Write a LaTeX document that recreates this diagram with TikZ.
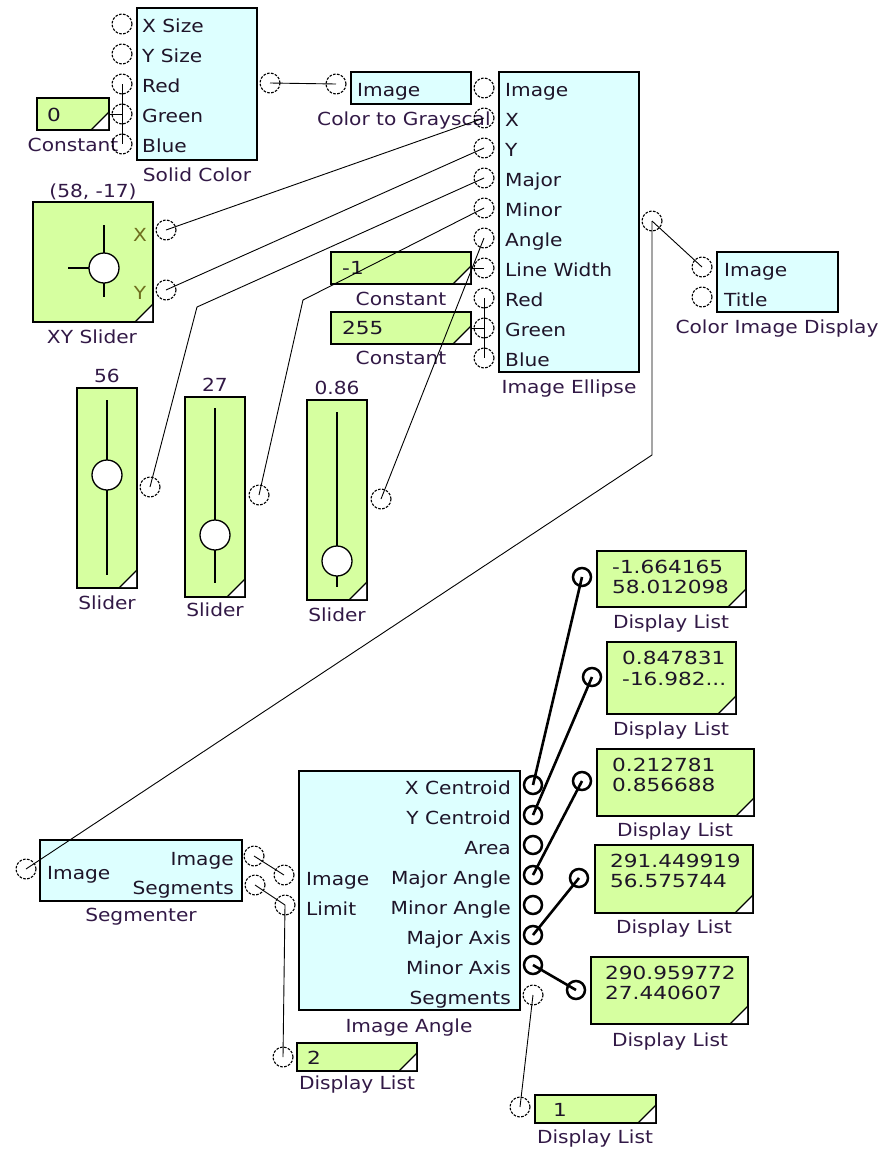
\documentclass[tikz,border=0pt]{standalone}
\usepackage{fontspec}
\setmainfont{DejaVu Sans}[FakeStretch=1.12]
\newfontfamily\numf{DejaVu Sans}[FakeStretch=1.2]
\usetikzlibrary{fit}
\definecolor{cy}{RGB}{221,255,255}
\definecolor{gr}{RGB}{214,255,160}
\definecolor{txt}{RGB}{30,20,40}
\definecolor{ttl}{RGB}{50,25,70}
\definecolor{olv}{RGB}{110,110,30}
\newcommand\fs{\fontsize{18}{22}\selectfont}
\newcommand\nfs{\numf\fontsize{18}{22}\selectfont}
\newcommand\crn[1]{%
  \fill[white] ([shift={(-17,-1)}]#1.south east) -- ([shift={(-1,-17)}]#1.south east) -- ([shift={(-1,-1)}]#1.south east) -- cycle;
  \draw[line width=1.1pt] ([xshift=-18pt]#1.south east) -- ([yshift=18pt]#1.south east);}
\begin{document}
\begin{tikzpicture}[x=1pt,y=-1pt,
 box/.style={draw=black,line width=1.5pt,outer sep=0pt,inner sep=0pt},
 cbox/.style={box,fill=cy},
 gbox/.style={box,fill=gr},
 port/.style={circle,draw=black,dash pattern=on 2.6pt off 1.4pt,line width=1.1pt,minimum size=20pt,inner sep=0pt,outer sep=0pt},
 bport/.style={circle,draw=black,line width=2.5pt,minimum size=18pt,inner sep=0pt},
 wire/.style={line width=0.9pt},
 bwire/.style={line width=2.6pt},
 lb/.style={font=\fs,text=txt,inner sep=0pt,text height=13pt,text depth=0pt,anchor=west},
 rb/.style={lb,anchor=east},
 nb/.style={lb,font=\nfs},
 tt/.style={font=\fs,text=ttl,inner sep=0pt,text height=13pt,text depth=0pt},
 knob/.style={circle,draw=black,fill=white,line width=1.3pt,minimum size=30pt,inner sep=0pt},
 trk/.style={line width=1.3pt},
]
\useasboundingbox (0,0) rectangle (883,1149);
\fill[white] (0,0) rectangle (883,1149);

% ---------- boxes ----------
\node[cbox,fit={(137,8)(257,160)}] (sc) {};
\node[gbox,fit={(37,98)(109,130)}] (c0) {};
\node[cbox,fit={(351,72)(471,104)}] (cg) {};
\node[cbox,fit={(499,72)(639,372)}] (ie) {};
\node[gbox,fit={(331,252)(471,284)}] (cm1) {};
\node[gbox,fit={(331,312)(471,344)}] (c255) {};
\node[cbox,fit={(717,252)(838,312)}] (cid) {};
\node[gbox,fit={(33,202)(153,322)}] (xy) {};
\node[gbox,fit={(77,388)(137,588)}] (s1) {};
\node[gbox,fit={(185,397)(245,597)}] (s2) {};
\node[gbox,fit={(307,400)(367,600)}] (s3) {};
\node[gbox,fit={(597,551)(746,607)}] (dl1) {};
\node[gbox,fit={(607,642)(736,714)}] (dl2) {};
\node[gbox,fit={(597,749)(754,816)}] (dl3) {};
\node[gbox,fit={(595,845)(753,913)}] (dl4) {};
\node[gbox,fit={(591,957)(748,1024)}] (dl5) {};
\node[gbox,fit={(535,1095)(656,1123)}] (dl6) {};
\node[gbox,fit={(297,1043)(417,1071)}] (dl7) {};
\node[cbox,fit={(40,840)(242,901)}] (seg) {};
\node[cbox,fit={(299,771)(520,1010)}] (ia) {};

\foreach \b in {c0,cm1,c255,xy,s1,s2,s3,dl1,dl2,dl3,dl4,dl5,dl6,dl7} {\crn{\b}}

% ---------- slider internals ----------
\draw[trk] (107,400) -- (107,575);
\node[knob] (k1) at (107,475) {};
\draw[trk] (215,408) -- (215,583);
\node[knob] (k2) at (215,535) {};
\draw[trk] (337,412) -- (337,587);
\node[knob] (k3) at (337,561) {};
\draw[trk] (104,225) -- (104,297);
\draw[trk] (68,268) -- (104,268);
\node[knob] (kxy) at (104,268) {};

% ---------- texts ----------
\foreach \t/\y in {X Size/26,Y Size/56,Red/86,Green/116,Blue/146} {\node[lb] at (142,\y) {\t};}
\node[tt] at (197,175) {Solid Color};
\node[nb] at (47,115) {0};
\node[tt] at (73,145) {Constant};
\node[lb] at (357,90) {Image};
\begin{scope}
  \clip (290,100) rectangle (490,140);
  \node[tt,anchor=west] at (317,119) {Color to Grayscale};
\end{scope}
\foreach \t/\y in {Image/90,X/120,Y/150,Major/180,Minor/210,Angle/240,Line Width/270,Red/300,Green/330,Blue/360} {\node[lb] at (505,\y) {\t};}
\node[tt] at (569,387) {Image Ellipse};
\node[nb] at (342,268) {-1};
\node[tt] at (401,299) {Constant};
\node[nb] at (342,328) {255};
\node[tt] at (401,358) {Constant};
\node[lb] at (724,270) {Image};
\node[lb] at (724,300) {Title};
\node[tt] at (777,327) {Color Image Display};
\node[tt] at (93,191) {(58, -17)};
\node[tt,text=olv] at (140,235) {X};
\node[tt,text=olv] at (140,293) {Y};
\node[tt] at (92,337) {XY Slider};
\node[tt] at (107,376) {56};
\node[tt] at (215,385) {27};
\node[tt] at (337,388) {0.86};
\node[tt] at (107,603) {Slider};
\node[tt] at (215,610) {Slider};
\node[tt] at (337,615) {Slider};
\node[nb] at (612,567) {-1.664165};
\node[nb] at (612,587) {58.012098};
\node[tt] at (671,622) {Display List};
\node[nb] at (622,658) {0.847831};
\node[nb] at (622,679) {-16.982...};
\node[tt] at (671,729) {Display List};
\node[nb] at (612,765) {0.212781};
\node[nb] at (612,785) {0.856688};
\node[tt] at (675,830) {Display List};
\node[nb] at (610,861) {291.449919};
\node[nb] at (610,881) {56.575744};
\node[tt] at (674,927) {Display List};
\node[nb] at (605,973) {290.959772};
\node[nb] at (605,993) {27.440607};
\node[tt] at (670,1040) {Display List};
\node[nb] at (553,1110) {1};
\node[tt] at (595,1137) {Display List};
\node[nb] at (307,1058) {2};
\node[tt] at (357,1083) {Display List};
\node[lb] at (47,873) {Image};
\node[rb] at (234,859) {Image};
\node[rb] at (234,888) {Segments};
\node[tt] at (141,915) {Segmenter};
\node[lb] at (306,879) {Image};
\node[lb] at (306,909) {Limit};
\foreach \t/\y in {X Centroid/788,Y Centroid/818,Area/848,Major Angle/878,Minor Angle/908,Major Axis/938,Minor Axis/968,Segments/998} {\node[rb] at (511,\y) {\t};}
\node[tt] at (409,1026) {Image Angle};

% ---------- ports ----------
\foreach \n/\y in {x/24,y/54,r/84,g/114,b/144} {\node[port] (sc\n) at (122,\y) {};}
\node[port] (sco) at (270,83) {};
\node[port] (cgi) at (336,84) {};
\foreach \n/\y in {i/88,x/118,y/148,ma/178,mi/208,an/238,lw/268,r/298,g/328,b/358} {\node[port] (ie\n) at (484,\y) {};}
\node[port] (ieo) at (652,221) {};
\node[port] (cidi) at (702,267) {};
\node[port] (cidt) at (702,297) {};
\node[port] (xyx) at (166,230) {};
\node[port] (xyy) at (166,290) {};
\node[port] (s1o) at (150,487) {};
\node[port] (s2o) at (259,495) {};
\node[port] (s3o) at (381,499) {};
\node[bport] (dl1p) at (582,577) {};
\node[bport] (dl2p) at (592,677) {};
\node[bport] (dl3p) at (582,781) {};
\node[bport] (dl4p) at (579,878) {};
\node[bport] (dl5p) at (576,990) {};
\node[port] (dl6p) at (520,1107) {};
\node[port] (dl7p) at (283,1057) {};
\node[port] (segi) at (26,869) {};
\node[port] (sego1) at (254,856) {};
\node[port] (sego2) at (255,885) {};
\node[port] (iai) at (284,875) {};
\node[port] (ial) at (285,905) {};
\foreach \i/\y in {1/785,2/815,3/845,4/875,5/905,6/935,7/965} {\node[bport] (iao\i) at (533,\y) {};}
\node[port] (iao8) at (533,995) {};

% ---------- bend points ----------
\coordinate (b1) at (197,307);
\coordinate (b2) at (303,300);
\coordinate (b3) at (652,455);

% ---------- wires ----------
\draw[wire] (sco.center) -- (cgi.center);
\draw[wire] (c0.east) -- (scg.center);
\draw[wire] (scr.center) -- (scb.center);
\draw[wire] (xyx.center) -- (iex.center);
\draw[wire] (xyy.center) -- (iey.center);
\draw[wire] (s1o.center) -- (b1) -- (iema.center);
\draw[wire] (s2o.center) -- (b2) -- (iemi.center);
\draw[wire] (s3o.center) -- (iean.center);
\draw[wire] (cm1.east) -- (ielw.center);
\draw[wire] (c255.east) -- (ieg.center);
\draw[wire] (ier.center) -- (ieb.center);
\draw[wire] (ieo.center) -- (cidi.center);
\draw[wire] (ieo.center) -- (b3) -- (segi.center);
\draw[wire] (sego1.center) -- (iai.center);
\draw[wire] (sego2.center) -- (ial.center);
\draw[wire] (ial.center) -- (dl7p.center);
\draw[bwire] (iao1.center) -- (dl1p.center);
\draw[bwire] (iao2.center) -- (dl2p.center);
\draw[bwire] (iao4.center) -- (dl3p.center);
\draw[bwire] (iao6.center) -- (dl4p.center);
\draw[bwire] (iao7.center) -- (dl5p.center);
\draw[wire] (iao8.center) -- (dl6p.center);
\end{tikzpicture}
\end{document}
